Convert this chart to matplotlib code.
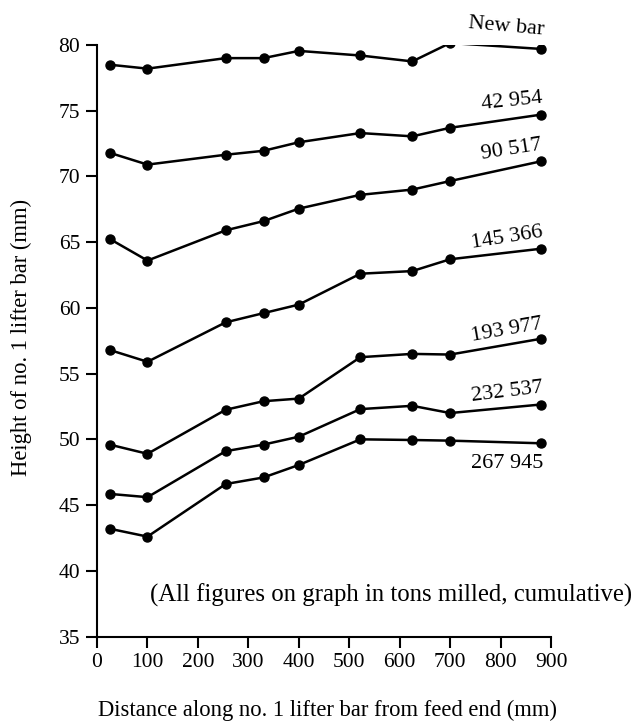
import matplotlib
matplotlib.use("Agg")
import matplotlib.pyplot as plt

plt.rcParams['font.family'] = ['Liberation Serif', 'DejaVu Serif']

distance = [25, 100, 255, 330, 400, 522, 625, 700, 880]

series_names = ["New bar", "42 954", "90 517", "145 366", "193 977", "232 537", "267 945"]
new_bar = [78.5, 78.2, 79.0, 79.0, 79.55, 79.2, 78.75, 80.15, 79.7]
t42954 = [71.8, 70.9, 71.65, 71.95, 72.6, 73.3, 73.05, 73.7, 74.7]
t90517 = [65.25, 63.6, 65.9, 66.6, 67.55, 68.6, 69.0, 69.65, 71.15]
t145366 = [56.8, 55.9, 58.9, 59.6, 60.25, 62.6, 62.8, 63.7, 64.5]
t193977 = [49.6, 48.9, 52.25, 52.9, 53.1, 56.25, 56.5, 56.45, 57.65]
t232537 = [45.85, 45.6, 49.1, 49.6, 50.2, 52.3, 52.55, 52.0, 52.65]
t267945 = [43.2, 42.6, 46.6, 47.1, 48.05, 50.0, 49.95, 49.9, 49.7]
series = [new_bar, t42954, t90517, t145366, t193977, t232537, t267945]

x_ticks = [0, 100, 200, 300, 400, 500, 600, 700, 800, 900]
y_ticks = [35, 40, 45, 50, 55, 60, 65, 70, 75, 80]

# label placement (offset in points from last point, rotation)
label_offsets = [(2, 7, -5), (2, 5, 6), (2, 5, 9), (2, 5, 9), (2, 4, 10), (2, 5, 7), (2, -8, 0)]

fig = plt.figure(figsize=(6.43, 7.22), dpi=100)
ax = fig.add_axes([0.1509, 0.1184, 0.857 - 0.1509, 0.9377 - 0.1184])

for name, vals, (dx, dy, rot) in zip(series_names, series, label_offsets):
    ax.plot(distance, vals, color='black', lw=1.8, marker='o', ms=6.5, mfc='black', mec='black')
    ax.annotate(name, xy=(distance[-1], vals[-1]), xytext=(dx, dy), textcoords='offset points',
                ha='right', va='bottom' if dy > 0 else 'top', rotation=rot, fontsize=16,
                rotation_mode='anchor')

ax.set_xlim(0, 900)
ax.set_ylim(35, 80)
ax.set_xticks(x_ticks)
ax.set_yticks(y_ticks)
ax.tick_params(axis='both', labelsize=15.5, width=1.5, length=8, direction='out', pad=4)
for s in ['top', 'right']:
    ax.spines[s].set_visible(False)
for s in ['left', 'bottom']:
    ax.spines[s].set_linewidth(1.5)

ax.text(0.117, 0.07, "(All figures on graph in tons milled, cumulative)", transform=ax.transAxes,
        fontsize=17.8, ha='left', va='center')

fig.text(0.509, 0.016, "Distance along no. 1 lifter bar from feed end (mm)", ha='center', va='center', fontsize=16.3)
fig.text(0.034, 0.532, "Height of no. 1 lifter bar (mm)", ha='center', va='center', rotation=90, fontsize=16.3)

fig.savefig("out.png", dpi=100)
